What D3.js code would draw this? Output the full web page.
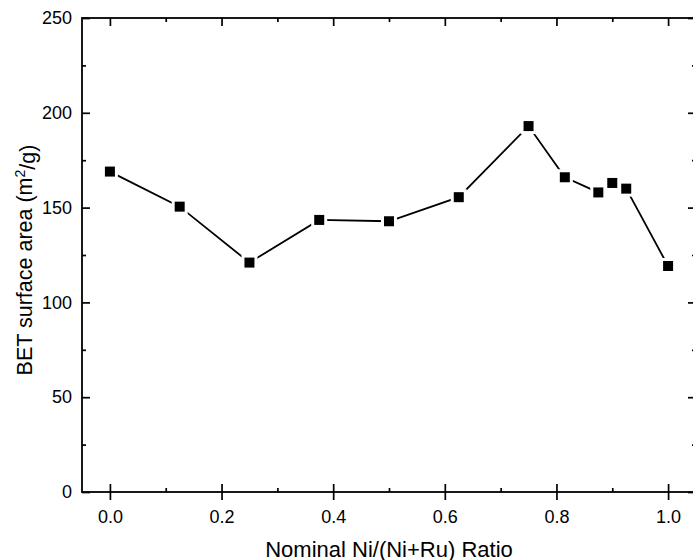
<!DOCTYPE html>
<html>
<head>
<meta charset="utf-8">
<script src="https://cdn.jsdelivr.net/npm/d3@7"></script>
<style>
  body { margin: 0; background: #fff; }
  svg { display: block; font-family: "Liberation Sans", Arial, sans-serif; }
</style>
</head>
<body>
<div id="myChart"></div>
<script>
// Nominal Ni/(Ni+Ru) ratio and BET surface area (m2/g)
var ratios = [0, 0.125, 0.25, 0.375, 0.5, 0.625, 0.75, 0.815, 0.875, 0.9, 0.925, 1.0];
var areas = [169, 150.5, 121, 143.5, 142.8, 155.5, 193, 166, 158, 163, 160, 119.2];
var xMajor = [0, 0.2, 0.4, 0.6, 0.8, 1.0];
var xMinor = [0.1, 0.3, 0.5, 0.7, 0.9];
var yMajor = [0, 50, 100, 150, 200, 250];
var yMinor = [25, 75, 125, 175, 225];

var W = 693, H = 560;
var plotLeft = 82, plotRight = 696, plotTop = 18, plotBottom = 492;

var x = d3.scaleLinear().domain([-0.05, 1.05]).range([plotLeft, plotRight]);
var y = d3.scaleLinear().domain([0, 250]).range([plotBottom, plotTop]);

var svg = d3.select("#myChart")
    .append("svg")
    .attr("width", W)
    .attr("height", H);

//Helper to style an axis group
function styleAxis(g, showText) {
    g.select(".domain").remove();
    g.selectAll(".tick line").attr("stroke", "#000").attr("stroke-width", 1.7);
    g.selectAll("text")
        .attr("fill", "#000")
        .style("font-size", "18px")
        .style("display", showText ? null : "none");
}

//Bottom axis: major ticks outward with labels
svg.append("g")
    .attr("transform", "translate(0," + plotBottom + ")")
    .call(d3.axisBottom(x).tickValues(xMajor).tickFormat(d3.format(".1f"))
        .tickSize(8).tickPadding(10))
    .call(styleAxis, true);

//Bottom axis: inward ticks
svg.append("g")
    .attr("transform", "translate(0," + plotBottom + ")")
    .call(d3.axisTop(x).tickValues(xMajor).tickSize(8))
    .call(styleAxis, false);
svg.append("g")
    .attr("transform", "translate(0," + plotBottom + ")")
    .call(d3.axisTop(x).tickValues(xMinor).tickSize(4))
    .call(styleAxis, false);

//Top axis: inward ticks
svg.append("g")
    .attr("transform", "translate(0," + plotTop + ")")
    .call(d3.axisBottom(x).tickValues(xMajor).tickSize(8))
    .call(styleAxis, false);
svg.append("g")
    .attr("transform", "translate(0," + plotTop + ")")
    .call(d3.axisBottom(x).tickValues(xMinor).tickSize(4))
    .call(styleAxis, false);

//Left axis: inward ticks with labels
svg.append("g")
    .attr("transform", "translate(" + plotLeft + ",0)")
    .call(d3.axisLeft(y).tickValues(yMajor).tickSize(-8).tickPadding(10))
    .call(styleAxis, true);
svg.append("g")
    .attr("transform", "translate(" + plotLeft + ",0)")
    .call(d3.axisLeft(y).tickValues(yMinor).tickSize(-4))
    .call(styleAxis, false);

//Right axis: inward ticks
svg.append("g")
    .attr("transform", "translate(" + plotRight + ",0)")
    .call(d3.axisRight(y).tickValues(yMajor).tickSize(-8))
    .call(styleAxis, false);
svg.append("g")
    .attr("transform", "translate(" + plotRight + ",0)")
    .call(d3.axisRight(y).tickValues(yMinor).tickSize(-4))
    .call(styleAxis, false);

//Frame
svg.append("rect")
    .attr("x", plotLeft)
    .attr("y", plotTop)
    .attr("width", plotRight - plotLeft)
    .attr("height", plotBottom - plotTop)
    .attr("fill", "none")
    .attr("stroke", "#000")
    .attr("stroke-width", 1.8);

var points = ratios.map(function (r, i) { return { r: r, a: areas[i] }; });

//Line
var line = d3.line()
    .x(function (d) { return x(d.r); })
    .y(function (d) { return y(d.a); });

svg.append("path")
    .datum(points)
    .attr("d", line)
    .attr("fill", "none")
    .attr("stroke", "#000")
    .attr("stroke-width", 1.8);

//White gap around symbols
svg.selectAll(".gap")
    .data(points)
    .enter().append("rect")
    .attr("x", function (d) { return x(d.r) - 8; })
    .attr("y", function (d) { return y(d.a) - 8; })
    .attr("width", 16)
    .attr("height", 16)
    .attr("fill", "#fff");

//Square symbols
svg.selectAll(".pt")
    .data(points)
    .enter().append("rect")
    .attr("x", function (d) { return x(d.r) - 5; })
    .attr("y", function (d) { return y(d.a) - 5; })
    .attr("width", 10)
    .attr("height", 10)
    .attr("fill", "#000");

//Axis titles
svg.append("text")
    .attr("x", (plotLeft + plotRight) / 2)
    .attr("y", 556.5)
    .attr("text-anchor", "middle")
    .style("font-size", "22px")
    .text("Nominal Ni/(Ni+Ru) Ratio");

var yt = svg.append("text")
    .attr("transform", "translate(31.5," + 260 + ") rotate(-90)")
    .attr("text-anchor", "middle")
    .style("font-size", "21.5px");
yt.append("tspan").text("BET surface area (m");
yt.append("tspan").attr("dy", "-0.45em").style("font-size", "14px").text("2");
yt.append("tspan").attr("dy", "0.45em").text("/g)");
</script>
</body>
</html>
